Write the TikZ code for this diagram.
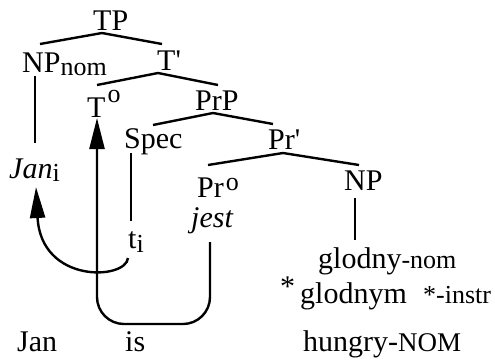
\documentclass[tikz,border=0pt]{standalone}
\usepackage{fontspec}
\setmainfont{Liberation Serif}[Ligatures=TeXOff]
\usetikzlibrary{arrows.meta}
\newcommand\smallsz{\fontsize{26}{30}\selectfont}
\newcommand\supo{\fontsize{26}{30}\selectfont o}
\begin{document}
\begin{tikzpicture}[x=1pt,y=-1pt,
  lbl/.style={inner sep=0pt, anchor=base west, font=\fontsize{30}{36}\selectfont},
  branch/.style={line width=2.4pt, line cap=butt, line join=miter},
  mover/.style={line width=2.4pt, -{Triangle[length=31pt,width=15pt]}},
  ]
\useasboundingbox (0,0) rectangle (495,360);
% labels
\node[lbl] (tp) at (93,30) {TP};
\node[lbl] (npnom) at (22,72) {NP\raisebox{-3pt}{\fontsize{26}{30}\selectfont nom}};
\node[lbl] (tbar) at (157,70) {T'};
\node[lbl] (t0) at (87,117) {T\hspace{2pt}\raisebox{15pt}{\supo}};
\node[lbl] (prp) at (195,110) {PrP};
\node[lbl] (spec) at (124,148) {Spec};
\node[lbl] (prbar) at (268,149) {Pr'};
\node[lbl] (pr0) at (197,197) {Pr\hspace{2pt}\raisebox{7pt}{\supo}};
\node[lbl] (jest) at (191,227) {\textit{jest}};
\node[lbl] (np) at (344,190) {NP};
\node[lbl] (jani) at (9,178) {\textit{Jan}\raisebox{-3pt}{\smallsz i}};
\node[lbl] (ti) at (128,248) {t\raisebox{-4pt}{\smallsz i}};
\node[lbl] (glnom) at (318,268) {glodny{\smallsz -nom}};
\node[lbl] (star) at (280,296) {*};
\node[lbl] (glins) at (300,303) {glodnym};
\node[lbl] (ins) at (423,303) {\smallsz *-instr};
\node[lbl] (jan) at (17,351) {Jan};
\node[lbl] (is) at (125,351) {is};
\node[lbl] (hung) at (303,351) {hungry-{\fontsize{27}{30}\selectfont NOM}};
% branch points
\coordinate (tpL) at (40,44); \coordinate (tpA) at (102,33); \coordinate (tpR) at (162,44);
\coordinate (tbL) at (97,85); \coordinate (tbA) at (158,73); \coordinate (tbR) at (218,85);
\coordinate (prpL) at (153,125); \coordinate (prpA) at (213,113); \coordinate (prpR) at (273,124);
\coordinate (prbL) at (208,165); \coordinate (prbA) at (283,153); \coordinate (prbR) at (359,165);
\coordinate (npnomB) at (35,76); \coordinate (janT) at (35,143);
\coordinate (specB) at (131,153); \coordinate (tT) at (131,221);
\coordinate (npB) at (355,198); \coordinate (glT) at (355,240);
\draw[branch] (tpL) -- (tpA) -- (tpR);
\draw[branch] (tbL) -- (tbA) -- (tbR);
\draw[branch] (prpL) -- (prpA) -- (prpR);
\draw[branch] (prbL) -- (prbA) -- (prbR);
\draw[branch] (npnomB) -- (janT);
\draw[branch] (specB) -- (tT);
\draw[branch] (npB) -- (glT);
% head movement jest -> T
\coordinate (jestB) at (210,242);
\coordinate (cornR) at (210,324);
\coordinate (cornL) at (97,324);
\coordinate (t0B) at (97,118);
\draw[mover, rounded corners=27pt] (jestB) -- (cornR) -- (cornL) -- (t0B);
% trace movement t -> Jan
\coordinate (tiB) at (128,258);
\coordinate (janB) at (36,187);
\draw[mover] (tiB) .. controls (126,280) and (41,284) .. (janB);
\end{tikzpicture}
\end{document}
